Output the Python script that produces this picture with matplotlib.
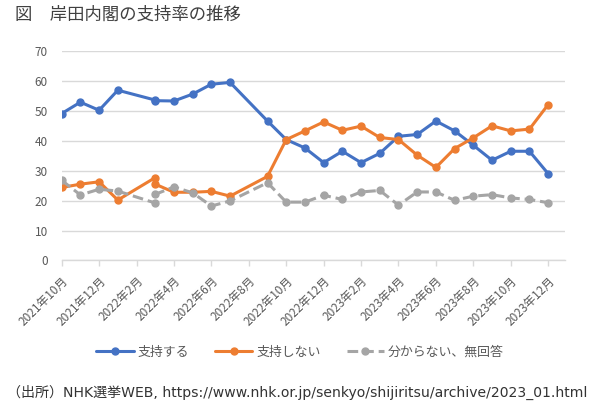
import matplotlib
matplotlib.use('Agg')
import matplotlib.pyplot as plt

plt.rcParams['font.family'] = ['Noto Sans CJK JP', 'DejaVu Sans']

# survey month for each point (Feb/Mar 2022 both sit on the March slot in the source chart)
months = ['2021-10', '2021-11', '2021-12', '2022-01', '2022-03', '2022-03',
          '2022-04', '2022-05', '2022-06', '2022-07', '2022-09', '2022-10',
          '2022-11', '2022-12', '2023-01', '2023-02', '2023-03', '2023-04',
          '2023-05', '2023-06', '2023-07', '2023-08', '2023-09', '2023-10',
          '2023-11', '2023-12']
support = [49.1, 52.9, 50.2, 56.9, 53.6, 53.4, 53.3, 55.6, 58.9, 59.5, 46.6, 40.4,
           37.6, 32.7, 36.5, 32.7, 35.8, 41.5, 42.1, 46.6, 43.3, 38.5, 33.5, 36.5,
           36.5, 29.0]
oppose = [24.4, 25.5, 26.3, 20.2, 27.7, 25.5, 22.8, 22.8, 23.1, 21.5, 28.1, 40.4,
          43.3, 46.3, 43.5, 44.9, 41.1, 40.4, 35.2, 31.1, 37.4, 41.0, 45.0, 43.3,
          43.9, 52.1]
unknown = [26.8, 21.9, 23.8, 23.2, 19.2, 22.1, 24.6, 22.6, 18.2, 19.9, 26.0, 19.5,
           19.5, 21.8, 20.4, 22.9, 23.4, 18.5, 22.9, 22.9, 20.1, 21.5, 22.0, 20.9,
           20.4, 19.3]
series_names = ['支持する', '支持しない', '分からない、無回答']
tick_months = ['2021-10', '2021-12', '2022-02', '2022-04', '2022-06', '2022-08',
               '2022-10', '2022-12', '2023-02', '2023-04', '2023-06', '2023-08',
               '2023-10', '2023-12']
yticks = [0, 10, 20, 30, 40, 50, 60, 70]


def month_index(s):
    y, m = s.split('-')
    return (int(y) - 2021) * 12 + int(m) - 10


def month_label(s):
    y, m = s.split('-')
    return f'{int(y)}年{int(m)}月'


x = [month_index(m) for m in months]

fig = plt.figure(figsize=(6.0, 4.09), dpi=100)
ax = fig.add_axes([0.1028, 0.3631, 0.8389, 0.5122])

lw = 2.2
ax.plot(x, support, color='#4472C4', lw=lw, marker='o', ms=5, label=series_names[0],
        solid_capstyle='round', zorder=3)
ax.plot(x, oppose, color='#ED7D31', lw=lw, marker='o', ms=5, label=series_names[1],
        solid_capstyle='round', zorder=3)
ax.plot(x, unknown, color='#A5A5A5', lw=lw, marker='o', ms=5, label=series_names[2],
        dashes=(3.5, 1.6), zorder=3)

ax.set_ylim(0, 70)
ax.set_xlim(0, 26.9)
ax.set_yticks(yticks)
ax.set_xticks([month_index(m) for m in tick_months])
ax.set_xticklabels([month_label(m) for m in tick_months], rotation=45, ha='right',
                   rotation_mode='anchor')

ax.grid(axis='y', color='#D9D9D9', lw=1)
ax.set_axisbelow(True)
for side in ['top', 'right', 'left']:
    ax.spines[side].set_visible(False)
ax.spines['bottom'].set_color('#D9D9D9')
ax.spines['bottom'].set_linewidth(1)
ax.tick_params(axis='y', length=0, pad=10, labelsize=8.5, labelcolor='#595959')
ax.tick_params(axis='x', length=4, color='#D9D9D9', width=1, pad=6, labelsize=8.5,
               labelcolor='#595959')

fig.legend(loc='center', bbox_to_anchor=(0.5, 1 - 352 / 409), ncol=3, frameon=False,
           fontsize=9.3, labelcolor='#595959', handlelength=2.9, handletextpad=0.3,
           columnspacing=2.0, numpoints=1)

fig.text(15 / 600, 1 - 15 / 409, '図\u3000岸田内閣の支持率の推移', fontsize=12.5,
         color='#404040', va='center', ha='left')
fig.text(7 / 600, 1 - 392 / 409,
         '（出所）NHK選挙WEB, https://www.nhk.or.jp/senkyo/shijiritsu/archive/2023_01.html',
         fontsize=10.1, color='#333333', va='center', ha='left',
         family=['DejaVu Sans', 'Noto Sans CJK JP'])

fig.savefig('out.png', dpi=100)
